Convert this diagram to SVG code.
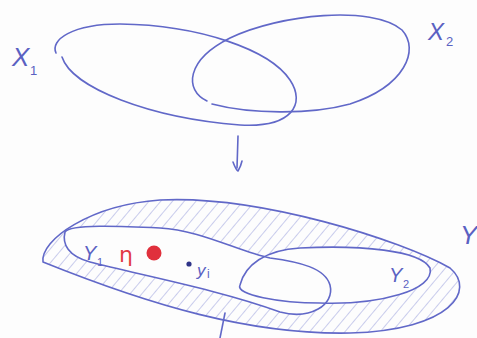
<svg xmlns="http://www.w3.org/2000/svg" width="477" height="338" viewBox="0 0 477 338">
<style>
.pen{fill:none;stroke:#6168c8;stroke-width:1.6;stroke-linecap:round;stroke-linejoin:round}
.lbl{font-family:"Liberation Sans",Arial,sans-serif;fill:#5a61c2;font-style:italic}
.sub{font-family:"Liberation Sans",Arial,sans-serif;fill:#5a61c2}
</style>
<defs>
<pattern id="hatch" patternUnits="userSpaceOnUse" width="9" height="9" patternTransform="rotate(40)">
<line x1="0" y1="0" x2="0" y2="9" stroke="#8a90d8" stroke-width="0.9"/>
</pattern>
</defs>
<rect width="477" height="338" fill="#fdfdfd"/>
<g id="X1">
<path class="pen" d="M62,57 C72,88 150,118 240,125 C292,128 306,104 290,80 C270,50 200,25 120,24 C72,24 50,40 56,53"/>
<text class="lbl" x="12" y="66" font-size="26">X</text><text class="sub" x="30" y="75" font-size="13">1</text>
</g>
<g id="X2">
<path class="pen" d="M207,101 C184,90 186,60 230,38 C280,14 372,5 402,30 C420,50 405,86 350,104 C310,115 250,114 212,104"/>
<text class="lbl" x="428" y="40" font-size="24">X</text><text class="sub" x="446" y="46" font-size="13">2</text>
</g>
<g id="Y">
<path d="M43,262 C40,240 90,205 160,200 C260,195 400,240 450,268 C476,290 452,330 350,333 C250,335 150,305 43,262 Z" fill="url(#hatch)" class="pen" style="fill:url(#hatch)"/>
<text class="lbl" x="460" y="244" font-size="26">Y</text>
</g>
<g id="Y1">
<path d="M65,232 C62,244 68,256 90,262 C140,275 220,290 280,312 C310,320 335,305 330,285 C325,268 300,262 270,258 C240,252 200,230 160,228 C120,226 70,224 65,232 Z" fill="#fdfdfd" stroke="none"/>
</g>
<g id="Y2">
<path d="M240,285 C245,265 265,250 300,248 C360,245 420,250 430,268 C435,290 380,305 320,303 C280,303 235,295 240,285 Z" fill="#fdfdfd" stroke="none"/>
<path class="pen" d="M240,285 C245,265 265,250 300,248 C360,245 420,250 430,268 C435,290 380,305 320,303 C280,303 235,295 240,285 Z"/>
<text class="lbl" x="389" y="282" font-size="20">Y</text><text class="sub" x="403" y="288" font-size="11">2</text>
</g>
<g id="Y1-outline">
<path class="pen" d="M65,232 C62,244 68,256 90,262 C140,275 220,290 280,312 C310,320 335,305 330,285 C325,268 300,262 270,258 C240,252 200,230 160,228 C120,226 70,224 65,232 Z"/>
<text class="lbl" x="83" y="260" font-size="20">Y</text><text class="sub" x="97" y="266" font-size="11">1</text>
</g>
<g id="eta">
<text x="119" y="262" font-size="22" font-family="'DejaVu Sans',sans-serif" fill="#e23a44">η</text>
<circle cx="154" cy="253" r="7.5" fill="#e0303c"/>
</g>
<g id="yi">
<circle cx="189" cy="264" r="2.6" fill="#2f3488"/>
<text class="lbl" x="197" y="276" font-size="17">y</text><text class="sub" x="207" y="278" font-size="12">i</text>
</g>
<g id="connectors">
<path class="pen" d="M238,136 L237,168"/>
<path class="pen" d="M233,162 Q236,170 238,171 Q241,166 242,161"/>
<path class="pen" d="M225,313 L220,338"/>
</g>
</svg>
